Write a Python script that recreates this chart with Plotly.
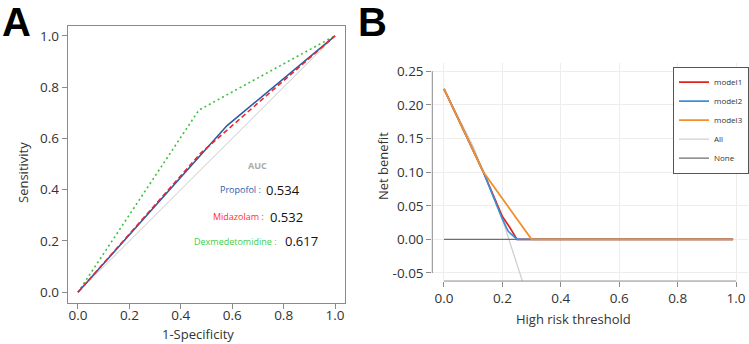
import plotly.graph_objects as go

W, H = 749, 344

# ---------------- Panel A data (ROC) ----------------
diag_x = [0, 1]
diag_y = [0, 1]
propofol_fpr = [0, 0.53, 0.58, 1]
propofol_tpr = [0, 0.59, 0.65, 1]
midazolam_fpr = [0, 0.48, 1]
midazolam_tpr = [0, 0.545, 1]
dex_fpr = [0, 0.47, 1]
dex_tpr = [0, 0.71, 1]
auc_names = ["Propofol", "Midazolam", "Dexmedetomidine"]
auc_values = [0.534, 0.532, 0.617]
roc_ticks = [0.0, 0.2, 0.4, 0.6, 0.8, 1.0]
roc_ticktext = ["0.0", "0.2", "0.4", "0.6", "0.8", "1.0"]

# ---------------- Panel B data (decision curve) ----------------
m1_x = [0, 0.135, 0.2, 0.225, 0.25, 0.99]
m1_y = [0.224, 0.10, 0.034, 0.018, 0.0, 0.0]
m2_x = [0, 0.135, 0.2, 0.22, 0.25, 0.99]
m2_y = [0.224, 0.10, 0.030, 0.012, 0.0, 0.0]
m3_x = [0, 0.135, 0.30, 0.99]
m3_y = [0.224, 0.10, 0.0, 0.0]
all_x = [0, 0.1, 0.2, 0.25, 0.27]
all_y = [0.224, 0.138, 0.030, -0.035, -0.064]
none_x = [0, 0.99]
none_y = [0, 0]
dca_xticks = [0.0, 0.2, 0.4, 0.6, 0.8, 1.0]
dca_xticktext = ["0.0", "0.2", "0.4", "0.6", "0.8", "1.0"]
dca_yticks = [-0.05, 0.0, 0.05, 0.10, 0.15, 0.20, 0.25]
dca_yticktext = ["-0.05", "0.00", "0.05", "0.10", "0.15", "0.20", "0.25"]

FONT = "Open Sans, Noto Sans, sans-serif"
TICKC = "#333333"
AXC = "#8a8a8a"


def px(x):
    return x / W


def py(y):
    return 1 - y / H


fig = go.Figure()

# Panel A traces
fig.add_trace(go.Scatter(x=diag_x, y=diag_y, mode="lines", line=dict(color="#c8c8c8", width=1),
                         xaxis="x", yaxis="y", showlegend=False, hoverinfo="skip"))
fig.add_trace(go.Scatter(x=dex_fpr, y=dex_tpr, mode="lines", line=dict(color="#3fbf3f", width=1.6, dash="2px,3px"),
                         xaxis="x", yaxis="y", showlegend=False))
fig.add_trace(go.Scatter(x=propofol_fpr, y=propofol_tpr, mode="lines", line=dict(color="#2a5ca8", width=1.6),
                         xaxis="x", yaxis="y", showlegend=False))
fig.add_trace(go.Scatter(x=midazolam_fpr, y=midazolam_tpr, mode="lines",
                         line=dict(color="#e8282b", width=1.6, dash="5px,3px"),
                         xaxis="x", yaxis="y", showlegend=False))

# Panel B traces (drawn order: All, None, model1, model2, model3)
fig.add_trace(go.Scatter(x=all_x, y=all_y, name="All", mode="lines", line=dict(color="#cfcfcf", width=1.3),
                         xaxis="x2", yaxis="y2", legendrank=4))
fig.add_trace(go.Scatter(x=none_x, y=none_y, name="None", mode="lines", line=dict(color="#6e6e6e", width=1.3),
                         xaxis="x2", yaxis="y2", legendrank=5))
fig.add_trace(go.Scatter(x=m1_x, y=m1_y, name="model1", mode="lines", line=dict(color="#e0231b", width=1.7),
                         xaxis="x2", yaxis="y2", legendrank=1))
fig.add_trace(go.Scatter(x=m2_x, y=m2_y, name="model2", mode="lines", line=dict(color="#3e8fd8", width=1.7),
                         xaxis="x2", yaxis="y2", legendrank=2))
fig.add_trace(go.Scatter(x=m3_x, y=m3_y, name="model3", mode="lines", line=dict(color="#f28e2b", width=1.8),
                         xaxis="x2", yaxis="y2", legendrank=3))

# AUC annotations
ann = []
ann.append(dict(xref="x", yref="y", x=0.70, y=0.496, text="<b>AUC</b>", showarrow=False,
                xanchor="center", yanchor="middle",
                font=dict(family=FONT, size=9, color="#aaaaaa")))
label_colors = ["#2a5ca8", "#ff3030", "#44cc44"]
label_right = [0.721, 0.733, 0.783]
val_left = [0.725, 0.740, 0.798]
ys = [0.399, 0.295, 0.198]
for name, val, c, xr, xl, yy in zip(auc_names, auc_values, label_colors, label_right, val_left, ys):
    ann.append(dict(xref="x", yref="y", x=xr, y=yy, text=name + " :", showarrow=False,
                    xanchor="right", yanchor="middle",
                    font=dict(family=FONT, size=9, color=c)))
    ann.append(dict(xref="x", yref="y", x=xl, y=yy, text=f"{val:.3f}", showarrow=False,
                    xanchor="left", yanchor="middle",
                    font=dict(family=FONT, size=13, color="#111111")))


def paper_text(x, y, text, size, angle=0, family=FONT, color=TICKC):
    return dict(xref="paper", yref="paper", x=px(x), y=py(y), text=text, textangle=angle, showarrow=False,
                xanchor="center", yanchor="middle", font=dict(family=family, size=size, color=color))


ann += [
    paper_text(23, 173, "Sensitivity", 13, -90),
    paper_text(198, 335, "1-Specificity", 13),
    paper_text(383, 166, "Net benefit", 13, -90),
    paper_text(573, 320, "High risk threshold", 13),
    paper_text(16, 21, "<b>A</b>", 40, family="Liberation Sans, Arial, sans-serif", color="#000000"),
    paper_text(372, 21, "<b>B</b>", 40, family="Liberation Sans, Arial, sans-serif", color="#000000"),
]

# R-style detached axis lines for panel B
shapes = [
    dict(type="line", xref="x2 domain", yref="y2", x0=0, x1=0, y0=min(dca_yticks), y1=max(dca_yticks),
         line=dict(color=AXC, width=1)),
    dict(type="line", xref="x2", yref="y2 domain", x0=min(dca_xticks), x1=max(dca_xticks), y0=0, y1=0,
         line=dict(color=AXC, width=1)),
]

tickfont = dict(family=FONT, size=13.5, color=TICKC)

fig.update_layout(
    width=W, height=H, autosize=False,
    margin=dict(l=0, r=0, t=0, b=0),
    paper_bgcolor="white", plot_bgcolor="white",
    annotations=ann, shapes=shapes,
    xaxis=dict(domain=[px(67.7), px(345.3)], range=[-0.04, 1.04], tickvals=roc_ticks, ticktext=roc_ticktext,
               ticks="outside", ticklen=5, tickcolor=AXC, showline=True, mirror=True, linecolor=AXC, linewidth=1,
               showgrid=False, zeroline=False, tickfont=tickfont, anchor="y", ticklabelstandoff=-5),
    yaxis=dict(domain=[py(303.3), py(24.7)], range=[-0.04, 1.04], tickvals=roc_ticks, ticktext=roc_ticktext,
               ticks="outside", ticklen=5, tickcolor=AXC, showline=True, mirror=True, linecolor=AXC, linewidth=1,
               showgrid=False, zeroline=False, tickfont=tickfont, anchor="x"),
    xaxis2=dict(domain=[px(432.3), px(747.7)], range=[-0.04, 1.04], tickvals=dca_xticks, ticktext=dca_xticktext,
                ticks="outside", ticklen=5, tickcolor=AXC, showline=False, showgrid=True, gridcolor="#ededed",
                zeroline=False, tickfont=tickfont, anchor="y2"),
    yaxis2=dict(domain=[py(281.7), py(62.6)], range=[-0.062, 0.262], tickvals=dca_yticks, ticktext=dca_yticktext,
                ticks="outside", ticklen=5, tickcolor=AXC, showline=False, showgrid=True, gridcolor="#ededed",
                zeroline=False, tickfont=tickfont, anchor="x2"),
    legend=dict(x=1, xanchor="right", y=py(66), yanchor="top", bgcolor="white", bordercolor="#555555",
                borderwidth=1, font=dict(family=FONT, size=8, color="#333333"), itemwidth=30,
                tracegroupgap=0),
)

fig.write_html("out.html", config={"displayModeBar": False},
               post_script="document.body.style.margin='0';")
